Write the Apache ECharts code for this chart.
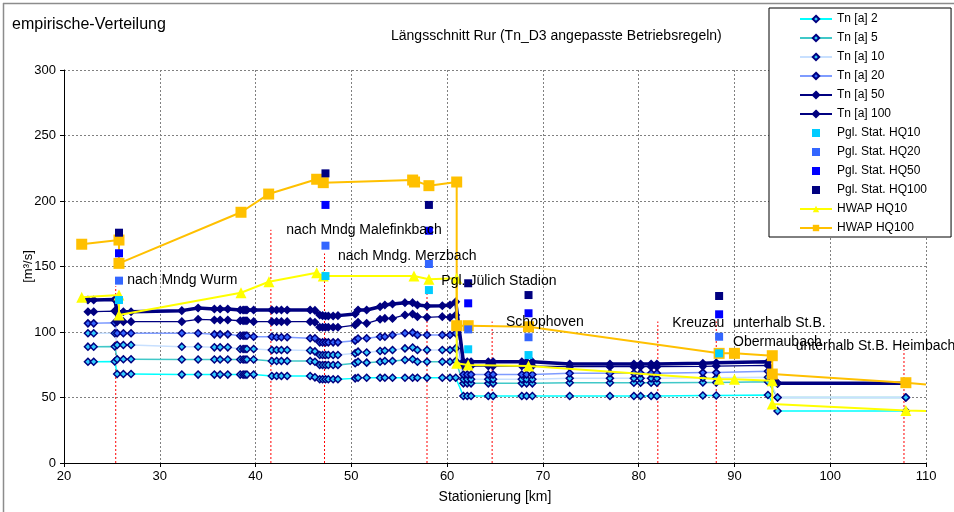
<!DOCTYPE html>
<html>
<head>
<meta charset="utf-8">
<script src="https://cdn.jsdelivr.net/npm/echarts@6/dist/echarts.min.js"></script>
<style>
  html, body { margin: 0; padding: 0; background: #fff; }
  #chart { width: 954px; height: 512px; }
</style>
</head>
<body>
<div id="chart"></div>
<script>
// River stations [km] shared by all return-period profiles
const stations = [22.5, 23.1, 25.3, 25.55, 26.2, 27.0, 32.3, 34.0, 35.7, 36.3,
  37.1, 38.4, 38.7, 38.9, 39.1, 39.8, 41.7, 42.2, 42.7, 43.3,
  45.7, 46.2, 46.7, 47.0, 47.3, 47.6, 48.1, 48.6, 50.4, 50.7,
  51.6, 53.0, 53.5, 54.3, 55.6, 56.4, 56.9, 57.9, 59.5, 60.3,
  60.9, 61.7, 62.1, 62.5, 64.3, 64.8, 67.8, 68.3, 68.9, 72.8,
  77.0, 79.5, 80.2, 81.3, 81.9, 86.7, 88.1, 93.5, 94.5, 107.9];

// Discharge [m³/s] per return period Tn
const tn2 = [77.3, 77.3, 77.5, 67.9, 67.9, 67.9, 67.5, 67.5, 67.5, 67.5,
  67.5, 67.5, 67.5, 67.5, 67.5, 67.5, 66.4, 66.4, 66.4, 66.4,
  66.4, 65.4, 63.9, 63.9, 63.9, 63.9, 63.9, 63.9, 64.6, 65.1,
  65.1, 65.1, 65.1, 65.1, 65.1, 65.1, 65.1, 65.1, 65.1, 65.1,
  65.1, 51.1, 51.1, 51.1, 51.1, 51.1, 51.1, 51.1, 51.1, 51.1,
  51.1, 51.1, 51.1, 51.1, 51.1, 51.5, 51.5, 51.9, 39.7, 39.7];
const tn5 = [88.8, 88.8, 89.0, 79.2, 79.2, 79.2, 79.0, 79.0, 79.0, 79.0,
  79.0, 79.0, 79.0, 79.0, 79.0, 79.0, 77.9, 77.9, 77.9, 77.9,
  77.9, 77.3, 74.8, 74.8, 74.8, 74.8, 74.8, 74.8, 76.1, 77.3,
  76.6, 77.3, 77.9, 77.9, 78.6, 79.2, 77.3, 77.3, 77.3, 77.3,
  77.9, 60.8, 60.8, 60.8, 60.8, 60.8, 60.8, 60.8, 60.8, 61.3,
  61.3, 61.3, 61.3, 61.3, 61.3, 61.5, 61.5, 62.0, 50.0, 50.0];
const tn10 = [99.0, 99.0, 99.0, 90.1, 90.1, 90.1, 88.8, 88.8, 88.3, 88.3,
  88.3, 87.0, 87.0, 87.0, 87.0, 87.0, 86.3, 86.3, 86.3, 86.3,
  85.9, 85.2, 82.4, 82.4, 82.4, 82.4, 82.4, 82.4, 83.7, 85.0,
  84.4, 85.5, 85.7, 86.3, 87.5, 88.2, 86.3, 86.3, 86.3, 86.3,
  87.5, 64.0, 64.0, 64.0, 64.0, 64.0, 64.0, 64.0, 64.0, 64.6,
  64.6, 64.6, 64.6, 64.6, 64.6, 65.0, 65.0, 65.5, 50.0, 50.0];
const tn20 = [106.6, 106.6, 107.0, 99.0, 99.0, 99.0, 99.0, 99.0, 98.2, 98.2,
  98.2, 97.2, 97.2, 97.2, 97.2, 96.4, 96.4, 96.0, 96.0, 96.0,
  95.2, 95.2, 92.1, 92.1, 92.1, 92.1, 92.1, 92.1, 93.4, 95.0,
  95.2, 96.4, 96.4, 97.7, 99.0, 99.5, 97.7, 97.7, 97.7, 97.7,
  99.0, 67.5, 67.5, 67.5, 67.5, 67.5, 67.5, 67.5, 67.5, 68.5,
  68.5, 68.5, 68.5, 68.5, 68.5, 69.0, 69.0, 70.0, 60.8, 60.8];
const tn50 = [115.5, 115.5, 116.0, 107.9, 107.9, 107.9, 107.9, 109.7, 109.2, 109.2,
  109.2, 108.6, 108.6, 108.6, 108.6, 107.9, 107.9, 107.9, 107.9, 107.9,
  107.9, 107.4, 103.6, 103.6, 103.6, 103.6, 103.6, 103.6, 105.3, 107.4,
  106.6, 109.7, 110.4, 110.4, 113.0, 113.7, 111.7, 111.2, 111.7, 111.2,
  113.0, 74.0, 74.0, 74.0, 74.0, 74.0, 74.0, 74.0, 74.0, 73.5,
  73.5, 73.5, 73.5, 73.5, 73.5, 73.8, 74.0, 74.5, 60.8, 60.8];
const tn100 = [124.4, 124.4, 124.8, 115.5, 115.5, 115.5, 116.3, 118.3, 117.6, 117.6,
  117.6, 116.8, 116.8, 116.8, 116.8, 116.8, 116.8, 116.8, 116.8, 116.8,
  116.8, 116.5, 113.0, 112.5, 112.2, 112.2, 112.2, 112.5, 113.7, 116.8,
  116.8, 119.3, 120.6, 121.4, 122.4, 122.4, 120.6, 119.8, 120.0, 120.6,
  123.0, 77.3, 77.3, 77.3, 77.3, 77.3, 77.3, 77.3, 77.3, 75.6,
  75.6, 75.6, 75.6, 75.6, 75.6, 76.1, 76.5, 77.3, 60.8, 60.8];

// Gauge statistics (Pegel)
const gaugeKm = [25.74, 47.3, 58.1, 62.2, 68.5, 88.4];
const gaugeHQ10 = [124.4, 142.7, 132.0, 86.8, 82.4, 83.7];
const gaugeHQ20 = [139.2, 165.9, 151.9, 102.0, 96.0, 96.4];
const gaugeHQ50 = [160.1, 197.0, 177.3, 121.9, 114.3, 113.5];
const gaugeHQ100 = [175.8, 221.1, 197.0, 137.2, 128.2, 127.5];

// Flood risk management plan (HWAP) values
const hwap10Km = [21.85, 25.74, 25.74, 38.48, 41.4, 46.38, 47.07, 56.54, 58.1, 61.0, 61.0, 62.2, 68.5, 88.4, 90.0, 93.95, 93.95, 107.9, 110];
const hwap10 = [126.5, 128.2, 113.0, 130.0, 138.4, 145.3, 142.7, 142.7, 140.2, 141.0, 76.1, 74.8, 74.0, 63.9, 63.9, 62.8, 45.0, 40.0, 39.7];
const hwap100Km = [21.85, 25.74, 25.74, 38.48, 41.37, 46.38, 47.07, 56.4, 56.6, 58.1, 61.0, 61.0, 62.2, 68.5, 88.4, 90.0, 93.95, 93.95, 107.9, 110];
const hwap100 = [167.0, 170.2, 152.4, 191.4, 205.3, 216.6, 214.0, 216.0, 214.5, 211.7, 214.5, 104.8, 104.8, 104.0, 83.7, 83.7, 81.9, 67.9, 61.3, 60.0];

// Site markers: station and reach of the red drop lines
const siteKm = [25.4, 41.6, 47.2, 57.9, 64.7, 82.0, 88.1, 107.7];
const siteTop = [135, 178, 160, 132, 108, 108, 108, 86];

// Site names with their anchor (station, discharge)
const siteNames = ['nach Mndg Wurm', 'nach Mndg Malefinkbach', 'nach Mndg. Merzbach', 'Pgl. Jülich Stadion',
  'Schophoven', 'Kreuzau', 'unterhalb St.B.\nObermaubach', 'unterhalb St.B. Heimbach'];
const nameKm = [26.6, 43.2, 48.6, 59.4, 66.15, 83.5, 89.85, 96.4];
const nameQ = [139.7, 177.9, 158.0, 138.9, 107.6, 106.9, 99.2, 89.3];

const FONT = '"Liberation Sans", Arial, sans-serif';
const SQUARE = 'path://M0,0L10,0L10,10L0,10Z';
const pairs = (xs, ys) => xs.map((x, i) => [x, ys[i]]);

function tnSeries(name, vals, color, width, fill) {
  return {
    name, type: 'line', data: pairs(stations, vals),
    symbol: 'diamond', symbolSize: 7,
    lineStyle: { color, width },
    itemStyle: { color: fill, borderColor: '#000080', borderWidth: 1.5 },
    z: 3
  };
}
function gaugeSeries(name, vals, color) {
  return {
    name, type: 'scatter', data: pairs(gaugeKm, vals),
    symbol: SQUARE, symbolSize: 8, symbolKeepAspect: true,
    itemStyle: { color, opacity: 1 }, z: 6
  };
}
function hwapSeries(name, xs, vals, color, symbol, size) {
  const data = pairs(xs, vals).map((p, i) =>
    i === xs.length - 1 ? { value: p, symbol: 'none' } : p);
  return {
    name, type: 'line', data, symbol, symbolSize: size,
    lineStyle: { color, width: 2 },
    itemStyle: { color }, z: 5
  };
}

const chart = echarts.init(document.getElementById('chart'), null, { renderer: 'canvas' });
chart.setOption({
  animation: false,
  backgroundColor: '#fff',
  textStyle: { fontFamily: FONT },
  title: [
    { text: 'empirische-Verteilung', left: 7, top: 12,
      textStyle: { fontFamily: FONT, fontSize: 16, fontWeight: 'normal', color: '#000' } },
    { text: 'Längsschnitt Rur (Tn_D3 angepasste Betriebsregeln)', left: 386, top: 24,
      textStyle: { fontFamily: FONT, fontSize: 14, fontWeight: 'normal', color: '#000' } }
  ],
  graphic: [
    { type: 'line', shape: { x1: 3, y1: 3.5, x2: 954, y2: 3.5 }, style: { stroke: '#8c8c8c', lineWidth: 1.5 }, z: 100 },
    { type: 'line', shape: { x1: 3.5, y1: 3, x2: 3.5, y2: 512 }, style: { stroke: '#8c8c8c', lineWidth: 1.5 }, z: 100 }
  ],
  grid: { left: 64, right: 28, top: 70, bottom: 49 },
  legend: {
    orient: 'vertical', left: 769, top: 8,
    padding: [5, 24, 3, 30],
    itemWidth: 32, itemHeight: 8, itemGap: 7,
    symbolKeepAspect: true,
    backgroundColor: '#fff', borderColor: '#000', borderWidth: 1,
    textStyle: { fontFamily: FONT, fontSize: 12, color: '#000' },
    data: ['Tn [a] 2', 'Tn [a] 5', 'Tn [a] 10', 'Tn [a] 20', 'Tn [a] 50', 'Tn [a] 100',
      'Pgl. Stat. HQ10', 'Pgl. Stat. HQ20', 'Pgl. Stat. HQ50', 'Pgl. Stat. HQ100',
      'HWAP HQ10', 'HWAP HQ100'],
    z: 20
  },
  xAxis: {
    type: 'value', min: 20, max: 110, interval: 10,
    name: 'Stationierung [km]', nameLocation: 'middle', nameGap: 27,
    nameTextStyle: { fontFamily: FONT, fontSize: 14, color: '#000' },
    axisLine: { lineStyle: { color: '#000', width: 1 } },
    axisTick: { show: true, length: 4, lineStyle: { color: '#000' } },
    axisLabel: { fontFamily: FONT, fontSize: 13, color: '#000', margin: 7 },
    splitLine: { show: true, lineStyle: { color: '#808080', type: [2, 2], width: 1 } }
  },
  yAxis: {
    type: 'value', min: 0, max: 300, interval: 50,
    name: '[m³/s]', nameLocation: 'middle', nameGap: 29, nameMoveOverlap: false,
    nameTextStyle: { fontFamily: FONT, fontSize: 13, color: '#000' },
    axisLine: { show: true, lineStyle: { color: '#000', width: 1 } },
    axisTick: { show: true, length: 4, lineStyle: { color: '#000' } },
    axisLabel: { fontFamily: FONT, fontSize: 13, color: '#000', margin: 8 },
    splitLine: { show: true, lineStyle: { color: '#808080', type: [2, 2], width: 1 } }
  },
  series: [
    {
      type: 'custom', silent: true, z: 1,
      data: pairs(siteKm, siteTop),
      renderItem(params, api) {
        const x = api.value(0);
        const p0 = api.coord([x, 0]);
        const p1 = api.coord([x, api.value(1)]);
        return { type: 'line', shape: { x1: p0[0], y1: p0[1], x2: p1[0], y2: p1[1] },
          style: { stroke: '#ff0000', lineWidth: 1, lineDash: [2, 2] } };
      }
    },
    tnSeries('Tn [a] 2', tn2, '#00ffff', 1.5, '#33ccff'),
    tnSeries('Tn [a] 5', tn5, '#40c8c8', 1.5, '#33ccff'),
    tnSeries('Tn [a] 10', tn10, '#c8e0ff', 1.5, '#33ccff'),
    tnSeries('Tn [a] 20', tn20, '#7f9cff', 1.5, '#3366ff'),
    tnSeries('Tn [a] 50', tn50, '#000080', 1.3, '#000080'),
    tnSeries('Tn [a] 100', tn100, '#000080', 3.5, '#000080'),
    hwapSeries('HWAP HQ10', hwap10Km, hwap10, '#ffff00', 'triangle', 11),
    hwapSeries('HWAP HQ100', hwap100Km, hwap100, '#ffc000', 'rect', 11),
    gaugeSeries('Pgl. Stat. HQ10', gaugeHQ10, '#00ccff'),
    gaugeSeries('Pgl. Stat. HQ20', gaugeHQ20, '#3366ff'),
    gaugeSeries('Pgl. Stat. HQ50', gaugeHQ50, '#0000ff'),
    gaugeSeries('Pgl. Stat. HQ100', gaugeHQ100, '#000080'),
    {
      type: 'custom', silent: true, z: 8,
      data: pairs(nameKm, nameQ),
      renderItem(params, api) {
        const p = api.coord([api.value(0), api.value(1)]);
        return { type: 'text', x: p[0], y: p[1],
          style: { text: siteNames[params.dataIndex], fill: '#000',
            font: '14px ' + FONT, align: 'left', verticalAlign: 'middle', lineHeight: 19 } };
      }
    }
  ]
});
</script>
</body>
</html>
